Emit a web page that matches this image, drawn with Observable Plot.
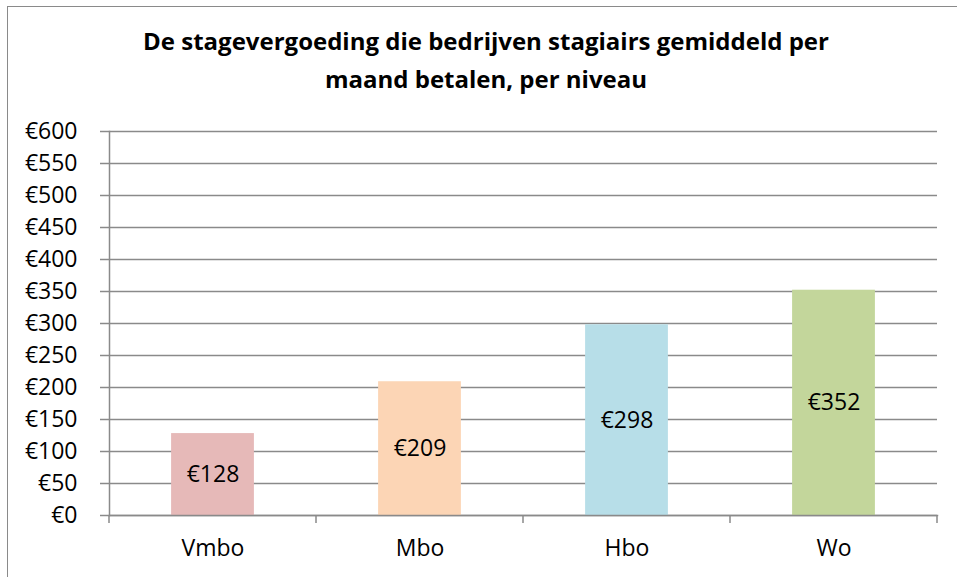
<!DOCTYPE html>
<html>
<head>
<meta charset="utf-8">
<script src="https://cdn.jsdelivr.net/npm/d3@7"></script>
<script src="https://cdn.jsdelivr.net/npm/@observablehq/plot@0.6"></script>
<style>
  html, body { margin: 0; padding: 0; background: #fff; overflow: hidden; }
  #wrap { position: relative; width: 957px; height: 577px; font-family: "Open Sans", sans-serif; }
  #frame { position: absolute; left: 7px; top: 6px; width: 960px; height: 600px; border: 1.5px solid #8a8a8a; box-sizing: border-box; }
  #title { position: absolute; left: 0; width: 972px; top: 22px; text-align: center; font-weight: bold; font-size: 24px; line-height: 38px; color: #000; }
  #chart { position: absolute; left: 0; top: 0; }
</style>
</head>
<body>
<div id="wrap">
  <div id="frame"></div>
  <div id="title">De stagevergoeding die bedrijven stagiairs gemiddeld per<br>maand betalen, per niveau</div>
  <div id="chart"></div>
</div>
<script>
const categories = ["Vmbo", "Mbo", "Hbo", "Wo"];
const values = [128, 209, 298, 352];
const colors = ["#E6B9B8", "#FCD5B5", "#B7DEE8", "#C3D69B"];
const yTicks = [0, 50, 100, 150, 200, 250, 300, 350, 400, 450, 500, 550, 600];

const data = categories.map((c, i) => ({category: c, value: values[i]}));

const W = 957, H = 577;
const mLeft = 109, mRight = 20, mTop = 131, mBottom = 62;
const step = (W - mLeft - mRight) / categories.length;
const inset = step * 0.3;
const gridColor = "#8a8a8a";
const font = "'Open Sans', sans-serif";

const chart = Plot.plot({
  width: W,
  height: H,
  marginLeft: mLeft,
  marginRight: mRight,
  marginTop: mTop,
  marginBottom: mBottom,
  style: {fontFamily: font, fontSize: "23px", color: "#000", background: "transparent", overflow: "visible"},
  x: {domain: categories, padding: 0},
  y: {domain: [0, 600]},
  color: {domain: categories, range: colors},
  marks: [
    Plot.ruleY(yTicks, {y: d => d, stroke: gridColor, strokeWidth: 1.5, insetLeft: -9}),
    Plot.barY(data, {x: "category", y: "value", fill: "category", insetLeft: inset, insetRight: inset}),
    Plot.frame({anchor: "left", stroke: gridColor, strokeWidth: 1.5}),
    Plot.frame({anchor: "bottom", stroke: gridColor, strokeWidth: 1.5}),
    Plot.text(data, {x: "category", y: d => d.value / 2, text: d => "€" + d.value, fontSize: 23, fill: "#000"}),
    Plot.axisY({ticks: yTicks, tickFormat: d => "€" + d, tickSize: 0, tickPadding: 32, fontSize: 23, label: null}),
    Plot.axisX({tickSize: 0, tickPadding: 24, fontSize: 23, label: null})
  ]
});

document.getElementById("chart").appendChild(chart);

// Category boundary ticks below the x axis, positioned by the band scale
const xs = chart.scale("x");
const ys = chart.scale("y");
const y0 = ys.apply(0);
const bounds = categories.map(c => xs.apply(c)).concat([xs.apply(categories[categories.length - 1]) + xs.bandwidth]);
d3.select(chart).append("g")
  .selectAll("line")
  .data(bounds)
  .join("line")
  .attr("x1", d => d).attr("x2", d => d)
  .attr("y1", y0).attr("y2", y0 + 8)
  .attr("stroke", gridColor).attr("stroke-width", 1.5);
</script>
</body>
</html>
